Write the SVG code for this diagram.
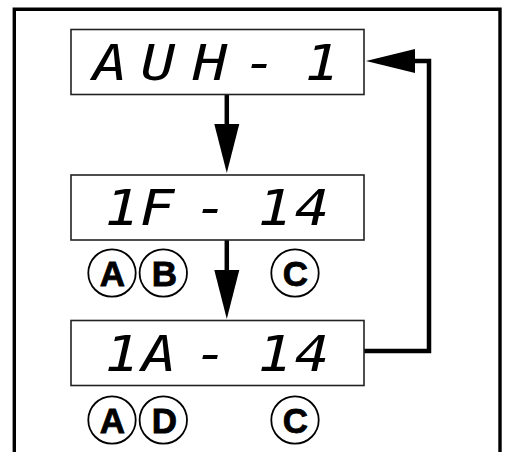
<svg xmlns="http://www.w3.org/2000/svg" width="510" height="452" viewBox="0 0 510 452">
<style>
.box{fill:#fff;stroke:#222;stroke-width:1.6}
.seg{font-family:"DejaVu Sans Mono",monospace;font-style:oblique;font-size:50px;fill:#000;text-anchor:middle}
.circ{fill:#fff;stroke:#000;stroke-width:1.8}
.lbl{font-family:"Liberation Sans",Arial,sans-serif;font-weight:bold;font-size:35px;fill:#000;stroke:#000;stroke-width:0.8;text-anchor:middle}
.line{fill:none;stroke:#000;stroke-width:4.5}
.head{fill:#000}
</style>
<rect width="510" height="452" fill="#fff"/>
<path d="M14.3,452 V9.3 H500 V452" fill="none" stroke="#000" stroke-width="3.4"/>
<g id="connectors">
  <line class="line" x1="226.8" y1="94" x2="226.8" y2="126"/>
  <polygon class="head" points="214.3,124 239.3,124 226.8,173"/>
  <line class="line" x1="226.8" y1="240" x2="226.8" y2="272"/>
  <polygon class="head" points="214.3,270 239.3,270 226.8,319"/>
  <polyline class="line" points="364,351 429,351 429,61 413,61"/>
  <polygon class="head" points="415,49 415,73 366,61"/>
</g>
<g id="node-auh1">
  <rect class="box" x="71" y="29.5" width="293" height="65"/>
  <text class="seg" transform="matrix(1.15 0 0 1 0 0)" y="80" x="95.65 137.39 182.61 226.09 280">AUH-1</text>
</g>
<g id="node-1f14">
  <rect class="box" x="71" y="175" width="293" height="65"/>
  <text class="seg" transform="matrix(1.15 0 0 1 0 0)" y="225" x="106.09 136.52 183.48 239.13 271.3">1F-14</text>
</g>
<g id="node-1a14">
  <rect class="box" x="71" y="320.5" width="293" height="65"/>
  <text class="seg" transform="matrix(1.15 0 0 1 0 0)" y="371" x="106.09 138.26 183.48 239.13 271.3">1A-14</text>
</g>
<g id="label-a1"><circle class="circ" cx="112" cy="273" r="23.7"/><text class="lbl" x="112.5" y="285.5">A</text></g>
<g id="label-b"><circle class="circ" cx="163.3" cy="273" r="23.7"/><text class="lbl" x="164.5" y="285.5">B</text></g>
<g id="label-c1"><circle class="circ" cx="295" cy="273" r="23.7"/><text class="lbl" x="295.5" y="285.5">C</text></g>
<g id="label-a2"><circle class="circ" cx="112" cy="420" r="23.7"/><text class="lbl" x="112.5" y="432.5">A</text></g>
<g id="label-d"><circle class="circ" cx="163.3" cy="420" r="23.7"/><text class="lbl" x="164.5" y="432.5">D</text></g>
<g id="label-c2"><circle class="circ" cx="295" cy="420" r="23.7"/><text class="lbl" x="295.5" y="432.5">C</text></g>
</svg>
